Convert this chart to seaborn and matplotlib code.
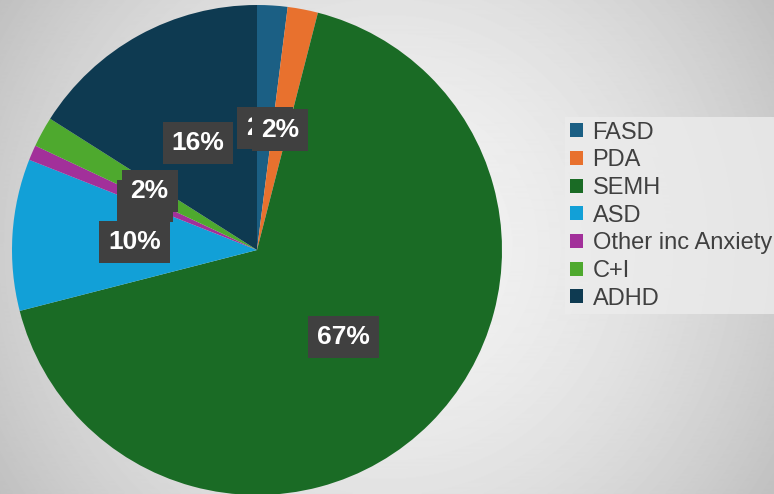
import numpy as np
import matplotlib
matplotlib.use("Agg")
import matplotlib.pyplot as plt
import seaborn as sns

categories = ["FASD", "PDA", "SEMH", "ASD", "Other inc Anxiety", "C+I", "ADHD"]
values = [2, 2, 67, 10, 1, 2, 16]
labels = ["2%", "2%", "67%", "10%", "1%", "2%", "16%"]
colors = ["#1B5F84", "#E8712E", "#1A6B25", "#12A0D7", "#A2309A", "#4EA92E", "#0E3A51"]

sns.set_theme(style="white")
plt.rcParams["font.family"] = ["Liberation Sans", "DejaVu Sans"]

W, H = 774, 494
fig = plt.figure(figsize=(W / 100, H / 100), dpi=100)

# radial gradient background
bg = fig.add_axes([0, 0, 1, 1], zorder=-10)
yy, xx = np.mgrid[0:H, 0:W]
d = np.sqrt((xx - 387) ** 2 + (yy - 247) ** 2)
r = d / np.sqrt(387 ** 2 + 247 ** 2)
v = (243 - 51 * r ** 1.8) / 255.0
bg.imshow(v, cmap="gray", vmin=0, vmax=1, aspect="auto", extent=[0, W, H, 0])
bg.set_axis_off()

# pie axes: center (257,250), radius 245 px
cx, cy, R = 257, 250, 245
ax = fig.add_axes([(cx - R) / W, (H - cy - R) / H, 2 * R / W, 2 * R / H])
wedges, _ = ax.pie(values, colors=colors, startangle=90, counterclock=False,
                   radius=1.0, wedgeprops=dict(linewidth=0))
ax.set_xlim(-1, 1)
ax.set_ylim(-1, 1)
ax.set_aspect("auto")
ax.set_axis_off()

cum = np.cumsum([0] + values)
total = sum(values)
for i, lab in enumerate(labels):
    mid = (cum[i] + cum[i + 1]) / 2 / total * 2 * np.pi
    x = 0.5 * np.sin(mid)
    y = 0.5 * np.cos(mid)
    ax.text(x, y, lab, ha="center", va="center", color="white", fontsize=19,
            fontweight="bold", zorder=5 + i,
            bbox=dict(boxstyle="square,pad=0.34", facecolor="#404040", edgecolor="none"))

leg = fig.legend(wedges, categories, loc="upper left",
                 bbox_to_anchor=(565 / W, 1 - 117 / H), borderaxespad=0,
                 frameon=True, fontsize=17, handlelength=0.55, handleheight=0.55,
                 handletextpad=0.42, labelspacing=0.24, borderpad=0.2)
leg.get_frame().set_facecolor("#ececec")
leg.get_frame().set_edgecolor("none")
leg.get_frame().set_boxstyle("square", pad=0)
for t in leg.get_texts():
    t.set_color("#404040")

fig.savefig("out.png", dpi=100)
